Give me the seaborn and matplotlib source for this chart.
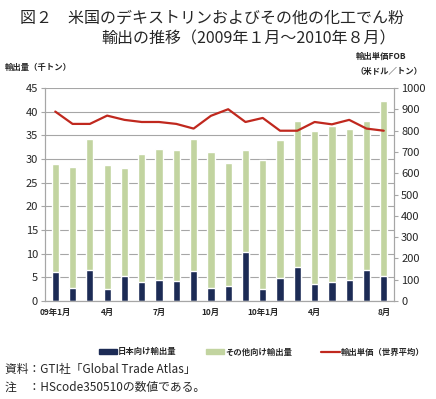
import numpy as np
import pandas as pd
import matplotlib
matplotlib.use("Agg")
import matplotlib.pyplot as plt
import seaborn as sns

months = ["09-01", "09-02", "09-03", "09-04", "09-05", "09-06", "09-07", "09-08", "09-09", "09-10",
          "09-11", "09-12", "10-01", "10-02", "10-03", "10-04", "10-05", "10-06", "10-07", "10-08"]
japan = [6.0, 2.8, 6.5, 2.6, 5.2, 3.9, 4.4, 4.3, 6.4, 2.8,
         3.1, 10.3, 2.5, 4.9, 7.2, 3.6, 3.9, 4.4, 6.6, 5.2]
total = [29.0, 28.4, 34.3, 28.8, 28.2, 31.1, 32.1, 31.9, 34.3, 31.5,
         29.1, 31.9, 29.7, 34.0, 38.1, 35.9, 37.1, 36.4, 38.0, 42.3]
price = [890, 832, 832, 871, 851, 841, 841, 832, 810, 870,
         901, 841, 860, 800, 800, 841, 830, 851, 810, 800]
tick_labels = {0: "09年1月", 3: "4月", 6: "7月", 9: "10月", 12: "10年1月", 15: "4月", 19: "8月"}

df = pd.DataFrame({"month": months, "japan": japan, "total": total, "price": price})

sns.set_style("white")
plt.rcParams["font.family"] = ["Noto Sans CJK JP", "DejaVu Sans"]

navy = "#1c2b55"
green = "#c2d4a0"
red = "#c0281e"
gray = "#a6a6a6"

fig = plt.figure(figsize=(4.36, 3.99), dpi=100)
ax = fig.add_axes([0.103, 0.246, 0.801, 0.533])

# stacked look: totals in light green, Japan share drawn over the bottom
sns.barplot(data=df, x="month", y="total", color=green, width=0.42, ax=ax, saturation=1)
sns.barplot(data=df, x="month", y="japan", color=navy, width=0.42, ax=ax, saturation=1)

ax.set_ylim(0, 45)
ax.set_yticks(np.arange(0, 46, 5))
ax.set_xlim(-0.6, len(months) - 0.4)
ax.yaxis.grid(True, color=gray, linewidth=0.8)
ax.set_axisbelow(True)
ax.set_xlabel("")
ax.set_ylabel("")
ax.set_xticks(list(tick_labels.keys()))
ax.set_xticklabels(list(tick_labels.values()), fontsize=6, fontweight="bold")
ax.set_xticks(np.arange(-0.5, len(months), 1), minor=True)
ax.tick_params(axis="x", which="major", length=0, pad=5)
ax.tick_params(axis="x", which="minor", length=3, color=gray, direction="in")
ax.tick_params(axis="y", labelsize=8, length=3, color=gray, pad=2)
for s in ["left", "right", "bottom"]:
    ax.spines[s].set_color(gray)
ax.spines["top"].set_visible(False)

ax2 = ax.twinx()
sns.lineplot(x=np.arange(len(months)), y=df["price"], color=red, linewidth=1.6, ax=ax2, legend=False)
ax2.set_ylim(0, 1000)
ax2.set_yticks(np.arange(0, 1001, 100))
ax2.set_ylabel("")
ax2.tick_params(axis="y", labelsize=8, length=3, color=gray, pad=2)
for s in ["left", "right", "bottom"]:
    ax2.spines[s].set_color(gray)
ax2.spines["top"].set_visible(False)

handles = [plt.Rectangle((0, 0), 1, 1, color=navy),
           plt.Rectangle((0, 0), 1, 1, color=green),
           plt.Line2D([0], [0], color=red, linewidth=1.6)]
fig.legend(handles, ["日本向け輸出量", "その他向け輸出量", "輸出単価（世界平均）"],
           loc="center", bbox_to_anchor=(0.6, 0.118), ncol=3, frameon=False,
           prop={"size": 6, "weight": "bold"}, handlelength=2.2, handleheight=0.5,
           handletextpad=0.1, columnspacing=3.5)

fig.text(0.045, 0.955, "図２　米国のデキストリンおよびその他の化工でん粉", fontsize=11.5,
         va="center", ha="left")
fig.text(0.233, 0.903, "輸出の推移（2009年１月～2010年８月）", fontsize=11.5,
         va="center", ha="left")
fig.text(0.012, 0.83, "輸出量（千トン）", fontsize=6, fontweight="bold", va="center")
fig.text(0.815, 0.86, "輸出単価FOB", fontsize=6, fontweight="bold", va="center")
fig.text(0.815, 0.822, "（米ドル／トン）", fontsize=6, fontweight="bold", va="center")
fig.text(0.012, 0.075, "資料：GTI社「Global Trade Atlas」", fontsize=8.5, va="center")
fig.text(0.012, 0.03, "注　：HScode350510の数値である。", fontsize=8.5, va="center")

fig.savefig("out.png", dpi=100)
